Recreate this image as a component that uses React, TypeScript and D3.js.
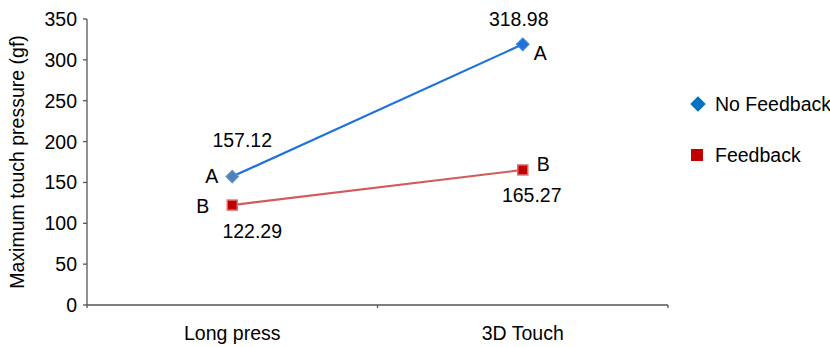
import React from "react";
import * as d3 from "d3";

const categories = ["Long press", "3D Touch"];
const noFeedback = [157.12, 318.98];
const feedback = [122.29, 165.27];
const groupLetters = { noFeedback: ["A", "A"], feedback: ["B", "B"] };
const yTicks = [0, 50, 100, 150, 200, 250, 300, 350];

const W = 830;
const H = 347;
const margin = { left: 87, right: 162, top: 19, bottom: 42 };
const FONT = "'Liberation Sans', Arial, sans-serif";
const FS = 19.5;

export default function App() {
  const x = d3
    .scaleBand<string>()
    .domain(categories)
    .range([margin.left, W - margin.right])
    .paddingInner(0)
    .paddingOuter(0);
  const y = d3.scaleLinear().domain([0, 350]).range([H - margin.bottom, margin.top]);
  const cx = (c: string) => (x(c) ?? 0) + x.bandwidth() / 2;

  const line = d3
    .line<number>()
    .x((_, i) => cx(categories[i]))
    .y((v) => y(v));

  const x0 = margin.left;
  const x1 = W - margin.right;
  const yBase = y(0);

  return (
    <svg
      width={W}
      height={H}
      style={{ position: "absolute", left: 0, top: 0, background: "#fff" }}
      fontFamily={FONT}
    >
      {/* y axis */}
      <line x1={x0} x2={x0} y1={y(350)} y2={yBase} stroke="#555" strokeWidth={1.3} />
      {yTicks.map((t) => (
        <g key={t}>
          <line x1={x0 - 4} x2={x0} y1={y(t)} y2={y(t)} stroke="#555" strokeWidth={1.3} />
          <text x={x0 - 10} y={y(t)} dy="0.36em" textAnchor="end" fontSize={FS} fill="#000">
            {t}
          </text>
        </g>
      ))}
      <text
        transform={`translate(24,${(y(0) + y(350)) / 2}) rotate(-90)`}
        textAnchor="middle"
        fontSize={FS}
        fill="#000"
      >
        Maximum touch pressure (gf)
      </text>

      {/* x axis */}
      <line x1={x0} x2={x1} y1={yBase} y2={yBase} stroke="#555" strokeWidth={1.3} />
      {[x0, x0 + x.bandwidth(), x1].map((px, i) => (
        <line key={i} x1={px} x2={px} y1={yBase} y2={yBase + 3} stroke="#555" strokeWidth={1.3} />
      ))}
      {categories.map((c) => (
        <text key={c} x={cx(c)} y={yBase + 35} textAnchor="middle" fontSize={FS} fill="#000">
          {c}
        </text>
      ))}

      {/* series lines */}
      <path d={line(noFeedback) ?? ""} fill="none" stroke="#1f72d8" strokeWidth={2.2} />
      <path d={line(feedback) ?? ""} fill="none" stroke="#d35a5a" strokeWidth={2.2} />

      {/* No Feedback markers */}
      {noFeedback.map((v, i) => {
        const px = cx(categories[i]);
        const py = y(v);
        return (
          <rect
            key={i}
            x={px - 4.5}
            y={py - 4.5}
            width={9}
            height={9}
            transform={`rotate(45,${px},${py})`}
            fill={i === 0 ? "#4f81bd" : "#1f72d8"}
            stroke={i === 0 ? "#6f97c8" : "#3d86de"}
            strokeWidth={1}
          />
        );
      })}
      {/* Feedback markers */}
      {feedback.map((v, i) => {
        const px = cx(categories[i]);
        const py = y(v);
        return (
          <rect
            key={i}
            x={px - 5}
            y={py - 5}
            width={10}
            height={10}
            fill="#c00000"
            stroke="#d97070"
            strokeWidth={1.5}
          />
        );
      })}

      {/* value labels */}
      <text x={cx(categories[0]) + 10} y={y(noFeedback[0]) - 30} textAnchor="middle" fontSize={FS}>
        {noFeedback[0].toFixed(2)}
      </text>
      <text x={cx(categories[1]) - 4} y={y(noFeedback[1]) - 18.5} textAnchor="middle" fontSize={FS}>
        {noFeedback[1].toFixed(2)}
      </text>
      <text x={cx(categories[0]) + 20} y={y(feedback[0]) + 33} textAnchor="middle" fontSize={FS}>
        {feedback[0].toFixed(2)}
      </text>
      <text x={cx(categories[1]) + 9} y={y(feedback[1]) + 32} textAnchor="middle" fontSize={FS}>
        {feedback[1].toFixed(2)}
      </text>

      {/* significance letters */}
      <text x={cx(categories[0]) - 14} y={y(noFeedback[0]) + 6} textAnchor="end" fontSize={FS}>
        {groupLetters.noFeedback[0]}
      </text>
      <text x={cx(categories[1]) + 11} y={y(noFeedback[1]) + 15.5} textAnchor="start" fontSize={FS}>
        {groupLetters.noFeedback[1]}
      </text>
      <text x={cx(categories[0]) - 23} y={y(feedback[0]) + 8} textAnchor="end" fontSize={FS}>
        {groupLetters.feedback[0]}
      </text>
      <text x={cx(categories[1]) + 14} y={y(feedback[1]) + 1} textAnchor="start" fontSize={FS}>
        {groupLetters.feedback[1]}
      </text>

      {/* legend */}
      <rect
        x={698 - 5.5}
        y={104 - 5.5}
        width={11}
        height={11}
        transform="rotate(45,698,104)"
        fill="#0070c0"
      />
      <text x={715} y={104} dy="0.36em" fontSize={FS}>
        No Feedback
      </text>
      <rect x={697 - 6} y={155 - 6} width={12} height={12} fill="#c00000" />
      <text x={715} y={155} dy="0.36em" fontSize={FS}>
        Feedback
      </text>
    </svg>
  );
}
